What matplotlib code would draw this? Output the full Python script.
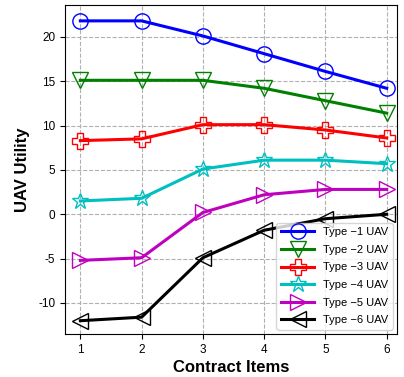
import matplotlib
matplotlib.use("Agg")
import matplotlib.pyplot as plt

plt.rcParams['axes.unicode_minus'] = False
plt.rcParams['font.family'] = ['Liberation Sans', 'DejaVu Sans']

items = [1, 2, 3, 4, 5, 6]
type1 = [21.8, 21.8, 20.1, 18.1, 16.1, 14.2]
type2 = [15.1, 15.1, 15.1, 14.2, 12.8, 11.4]
type3 = [8.3, 8.5, 10.1, 10.1, 9.5, 8.6]
type4 = [1.5, 1.8, 5.1, 6.1, 6.1, 5.7]
type5 = [-5.2, -4.9, 0.2, 2.2, 2.8, 2.8]
type6 = [-12.0, -11.6, -4.9, -1.8, -0.5, 0.0]
labels = ["Type \u22121 UAV", "Type \u22122 UAV", "Type \u22123 UAV",
          "Type \u22124 UAV", "Type \u22125 UAV", "Type \u22126 UAV"]
series = [type1, type2, type3, type4, type5, type6]
colors = ['b', 'g', 'r', 'c', 'm', 'k']
markers = ['o', 'v', 'P', '*', '>', '<']
msizes = [11, 11, 11, 12, 11, 11]

fig = plt.figure(figsize=(4.04, 3.77), dpi=100)
ax = fig.add_axes([0.161, 0.114, 0.822, 0.873])
for ys, c, m, ms, lab in zip(series, colors, markers, msizes, labels):
    ax.plot(items, ys, color=c, marker=m, markersize=ms, fillstyle='none',
            markeredgewidth=1.0, linewidth=2.2, label=lab)
ax.grid(True, linestyle='--', color='#b0b0b0', linewidth=0.8)
ax.set_xlim(0.75, 6.17)
ax.set_ylim(-13.5, 23.6)
ax.set_xticks(items)
ax.set_yticks([-10, -5, 0, 5, 10, 15, 20])
ax.tick_params(labelsize=8.5)
ax.set_xlabel("Contract Items", fontsize=12, fontweight='bold', labelpad=3)
ax.set_ylabel("UAV Utility", fontsize=12, fontweight='bold', labelpad=6)
ax.legend(loc='lower right', fontsize=8, handlelength=3, borderaxespad=0.4,
          labelspacing=0.68)
fig.savefig("out.png", dpi=100)
